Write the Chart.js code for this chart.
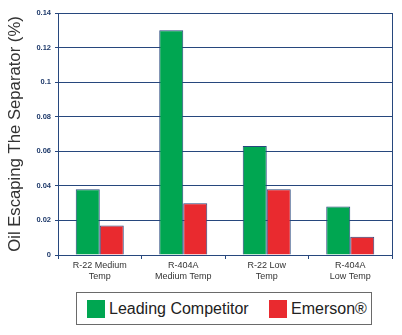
<!DOCTYPE html>
<html>
<head>
<meta charset="utf-8">
<script src="https://cdn.jsdelivr.net/npm/chart.js@4"></script>
<style>
  body { margin: 0; background: #fff; }
  #wrap { position: relative; width: 402px; height: 335px; }
  #box { position: absolute; left: 0; top: 0; width: 402px; height: 285px; }
  #legend {
    position: absolute; left: 76px; top: 292px; width: 294px; height: 31px;
    border: 1.5px solid #6a6a6a; box-sizing: content-box;
    font-family: "Liberation Sans", Arial, sans-serif; font-size: 16px; color: #222;
  }
  .item { position: absolute; top: 7px; height: 18px; line-height: 18px; white-space: nowrap; }
  .sw { display: inline-block; width: 18px; height: 18px; vertical-align: top; margin-right: 4px; }
</style>
</head>
<body>
<div id="wrap">
  <div id="box"><canvas id="chart1"></canvas></div>
  <div id="legend"></div>
</div>
<script>
document.addEventListener('DOMContentLoaded', function () {
    let categories = [['R-22 Medium', 'Temp'], ['R-404A', 'Medium Temp'], ['R-22 Low', 'Temp'], ['R-404A', 'Low Temp']];
    let competitor = [0.038, 0.13, 0.063, 0.028];
    let emerson = [0.017, 0.030, 0.038, 0.0105];
    let yTicks = [0, 0.02, 0.04, 0.06, 0.08, 0.1, 0.12, 0.14];

    let navy = '#27477d';

    // right edge of the plot frame
    let frameRight = {
        id: 'frameRight',
        afterDatasetsDraw(chart) {
            let a = chart.chartArea, c = chart.ctx;
            c.save();
            c.strokeStyle = navy;
            c.lineWidth = 1;
            c.beginPath();
            c.moveTo(a.right + 0.5, a.top);
            c.lineTo(a.right + 0.5, a.bottom);
            c.stroke();
            c.restore();
        }
    };

    let chart1 = new Chart(document.getElementById('chart1'), {
        type: 'bar',
        data: {
            labels: categories,
            datasets: [{
                label: 'Leading Competitor',
                data: competitor,
                backgroundColor: '#00a651',
                borderColor: navy,
                borderWidth: 1
            }, {
                label: 'Emerson®',
                data: emerson,
                backgroundColor: '#e92a2f',
                borderColor: navy,
                borderWidth: 1
            }]
        },
        options: {
            responsive: true,
            maintainAspectRatio: false,
            animation: false,
            layout: { padding: { left: 0, right: 10, top: 13, bottom: 0 } },
            datasets: { bar: { categoryPercentage: 0.575, barPercentage: 1 } },
            plugins: {
                legend: { display: false },
                tooltip: { enabled: false }
            },
            scales: {
                x: {
                    grid: { offset: true, drawOnChartArea: false, color: navy, tickLength: 4 },
                    border: { color: navy },
                    ticks: {
                        color: '#333',
                        padding: 1,
                        maxRotation: 0,
                        font: { family: 'Liberation Sans', size: 9, lineHeight: 1.2 }
                    },
                    afterFit: function (scale) { scale.height = 30; }
                },
                y: {
                    min: 0,
                    max: 0.14,
                    afterBuildTicks: function (scale) {
                        scale.ticks = yTicks.map(v => ({ value: v }));
                    },
                    grid: { color: navy, tickLength: 3 },
                    border: { color: navy },
                    ticks: {
                        color: '#1f3a6b',
                        padding: 4,
                        font: { family: 'Liberation Sans', size: 7.5, weight: 'bold' },
                        callback: v => String(Math.round(v * 100) / 100)
                    },
                    title: {
                        display: true,
                        text: 'Oil Escaping The Separator (%)',
                        color: '#333',
                        padding: { top: 5, bottom: 0 },
                        font: { family: 'Liberation Sans', size: 16.7 }
                    },
                    afterFit: function (scale) { scale.width = 58; }
                }
            }
        },
        plugins: [frameRight]
    });

    // legend in its own framed box under the chart
    let legend = document.getElementById('legend');
    let lefts = [10, 192];
    chart1.data.datasets.forEach(function (ds, i) {
        let item = document.createElement('div');
        item.className = 'item';
        item.style.left = lefts[i] + 'px';
        item.innerHTML = '<span class="sw" style="background:' + ds.backgroundColor + '"></span>' + ds.label;
        legend.appendChild(item);
    });
});
</script>
</body>
</html>
